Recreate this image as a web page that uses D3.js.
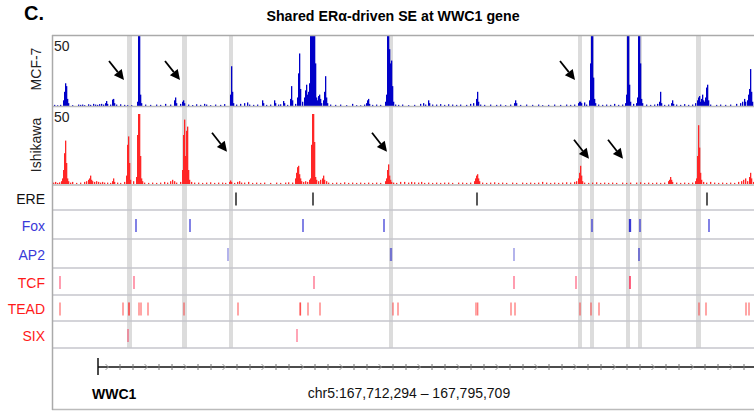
<!DOCTYPE html>
<html>
<head>
<meta charset="utf-8">
<script src="https://cdn.jsdelivr.net/npm/d3@7"></script>
<style>
  body { margin: 0; background: #fff; }
  svg { display: block; font-family: "Liberation Sans", Arial, sans-serif; }
</style>
</head>
<body>
<div class="browser-fig"></div>
<script>
// window shown: chr5:167,712,294 – 167,795,709 (positions below in kb from window start)
const regionStart = 167712294;
const regionEnd = 167795709;
const trackMax = 50;

// ChIP coverage, 100 bp bins: [bin, signal]
const mcf7Signal = [
  [2, 0.8], [5, 0.5], [8, 0.8], [11, 4], [12, 10], [13, 16], [14, 14], [15, 5], [16, 2], [20, 0.6],
  [26, 1], [28, 0.8], [30, 1], [32, 0.6], [36, 1.2], [38, 0.8], [41, 1.5], [43, 1], [45, 0.8], [47, 1.3],
  [49, 1.5], [51, 1], [53, 2], [54, 3.5], [55, 1.5], [58, 1], [60, 4.5], [61, 5], [62, 2], [64, 1],
  [68, 1.2], [72, 0.8], [75, 0.6], [79, 0.6], [85, 3], [86, 60], [87, 60], [88, 8], [89, 2], [93, 1],
  [98, 0.8], [104, 1], [108, 0.8], [113, 1.5], [118, 1], [122, 4], [123, 6], [124, 2], [128, 1.5], [130, 3],
  [131, 4], [132, 2], [136, 1], [140, 0.7], [144, 1.2], [148, 0.8], [152, 1.5], [154, 1], [158, 0.6], [163, 1],
  [168, 0.8], [172, 1.3], [178, 8], [179, 28], [180, 10], [181, 2], [184, 1], [188, 1.5], [192, 2], [195, 2.5],
  [197, 1], [201, 0.8], [205, 1], [210, 4], [211, 2], [214, 0.8], [218, 1], [222, 4], [223, 2], [226, 1],
  [228, 1.2], [231, 3.5], [232, 2], [235, 0.8], [238, 5], [239, 14], [240, 4], [243, 1.5], [245, 6], [246, 23],
  [247, 37], [248, 12], [250, 3], [252, 6], [253, 11], [254, 15], [255, 8], [256, 10], [257, 16], [258, 60],
  [259, 60], [260, 60], [261, 60], [262, 60], [263, 30], [264, 6], [265, 4], [266, 7], [267, 8], [268, 5],
  [269, 2], [271, 4], [272, 10], [273, 21], [274, 6], [275, 2], [278, 1], [283, 0.8], [288, 1], [294, 0.6],
  [300, 1.5], [304, 0.6], [308, 0.5], [312, 1], [314, 2], [315, 4], [316, 5], [317, 1.5], [320, 0.8], [324, 1],
  [328, 0.8], [333, 3], [334, 8], [335, 60], [336, 60], [337, 40], [338, 30], [339, 32], [340, 14], [341, 3],
  [343, 1], [346, 0.8], [350, 1], [356, 0.6], [362, 0.8], [368, 1.5], [371, 2], [373, 1], [376, 4], [377, 2],
  [380, 1], [384, 1], [388, 1.3], [392, 0.8], [396, 1.2], [400, 1], [404, 0.8], [408, 1], [414, 0.8], [418, 1.5],
  [421, 2], [424, 5], [425, 10], [426, 3], [428, 1], [432, 0.8], [438, 1], [444, 0.8], [448, 1], [453, 0.6],
  [458, 1], [462, 2], [463, 4], [464, 2], [468, 0.8], [474, 1], [480, 0.8], [486, 1], [490, 0.6], [496, 0.8],
  [502, 1], [508, 0.8], [514, 1], [518, 0.8], [522, 1], [526, 2], [527, 3], [528, 3], [529, 2], [532, 2.5],
  [534, 1], [537, 4], [538, 30], [539, 60], [540, 60], [541, 20], [542, 5], [543, 2], [546, 1], [550, 0.8],
  [554, 1], [558, 0.8], [562, 1.5], [566, 0.8], [570, 1], [573, 2], [574, 8], [575, 60], [576, 60], [577, 15],
  [578, 3], [581, 1.5], [584, 2], [585, 6], [586, 60], [587, 60], [588, 30], [589, 5], [590, 2], [594, 1],
  [598, 0.8], [602, 1], [605, 1.5], [607, 3], [608, 10], [609, 2], [612, 0.8], [616, 1], [619, 2], [620, 4],
  [621, 1.5], [624, 1], [628, 0.8], [632, 1.3], [636, 0.8], [640, 1], [643, 2], [645, 4], [646, 6], [647, 7],
  [648, 3], [649, 5], [650, 8], [651, 4], [652, 3], [653, 6], [654, 13], [655, 15], [656, 4], [658, 1],
  [664, 0.8], [668, 1], [673, 0.8], [678, 1], [684, 1.5], [688, 2], [690, 3], [692, 5], [693, 3], [695, 4],
  [696, 8], [697, 12], [698, 26], [699, 10], [700, 3], [702, 1]
];

const ishikawaSignal = [
  [1, 1], [3, 1.5], [5, 0.8], [7, 1.2], [9, 2], [10, 4], [11, 10], [12, 22], [13, 31], [14, 15],
  [15, 4], [16, 2], [18, 1], [20, 1.5], [24, 0.8], [28, 1], [32, 1.5], [34, 2], [36, 3], [37, 4],
  [38, 6], [39, 3], [40, 2], [42, 1.5], [44, 2], [46, 1.5], [48, 1], [50, 1.5], [52, 1], [55, 1],
  [58, 0.8], [60, 2], [61, 4], [62, 1.5], [65, 1], [68, 0.8], [72, 1.5], [74, 6], [75, 28], [76, 34],
  [77, 15], [78, 3], [81, 2], [84, 5], [85, 35], [86, 50], [87, 50], [88, 20], [89, 4], [90, 2],
  [92, 1], [96, 0.8], [100, 1], [104, 0.8], [108, 1], [112, 1.5], [115, 1], [118, 2], [120, 3], [122, 2],
  [124, 1], [128, 1.5], [130, 10], [131, 35], [132, 46], [133, 20], [134, 38], [135, 41], [136, 10], [137, 3],
  [139, 1.5], [142, 1], [146, 1], [150, 0.8], [154, 1], [158, 1.2], [162, 0.8], [166, 1], [170, 1], [173, 0.8],
  [177, 1.5], [178, 2.5], [179, 1.5], [182, 0.8], [185, 1.5], [187, 2], [189, 1], [192, 1], [196, 1.5], [200, 0.8],
  [204, 1], [208, 0.8], [212, 1], [218, 0.8], [224, 1], [228, 0.8], [233, 1], [236, 1.2], [240, 1], [243, 4],
  [244, 8], [245, 12], [246, 13], [247, 7], [248, 4], [249, 2], [251, 1.5], [253, 2], [255, 1.5], [257, 3],
  [258, 4], [259, 28], [260, 50], [261, 50], [262, 30], [263, 5], [264, 3], [266, 2], [268, 3], [270, 4],
  [271, 6], [272, 3], [274, 2], [276, 1], [280, 0.8], [284, 1], [288, 0.8], [292, 1.2], [296, 0.8], [300, 1],
  [304, 0.8], [308, 1], [312, 0.8], [316, 1], [320, 0.8], [324, 1], [328, 0.8], [333, 2], [334, 4], [335, 10],
  [336, 14], [337, 6], [338, 3], [339, 1.5], [341, 1], [344, 0.8], [348, 1.5], [352, 1.5], [356, 1], [359, 1.5],
  [362, 1.2], [366, 1], [369, 1.5], [372, 0.8], [376, 1], [380, 0.8], [384, 1], [388, 0.8], [392, 1], [396, 1],
  [400, 0.8], [406, 1], [410, 1], [414, 0.8], [418, 1], [422, 2], [423, 4], [424, 6], [425, 7], [426, 4],
  [427, 2], [430, 1], [434, 0.8], [438, 1], [442, 1.2], [446, 0.8], [450, 1], [454, 0.8], [460, 1], [464, 0.8],
  [470, 1], [474, 0.8], [478, 1], [482, 0.8], [486, 1], [490, 1.5], [494, 1], [498, 0.8], [502, 1], [506, 0.8],
  [510, 1], [514, 1.2], [518, 1], [522, 1.5], [524, 2], [526, 4], [527, 8], [528, 13], [529, 6], [530, 2],
  [532, 1], [536, 0.8], [540, 1], [544, 1.2], [548, 0.8], [552, 1], [556, 0.8], [560, 1], [564, 0.8], [570, 1],
  [574, 0.8], [578, 1], [584, 1], [588, 1.2], [592, 0.8], [596, 1], [600, 0.8], [604, 1], [608, 0.8], [612, 1],
  [616, 2], [617, 3], [618, 5], [619, 3], [620, 1.5], [624, 1], [628, 0.8], [632, 1], [636, 0.8], [640, 1],
  [643, 2], [644, 4], [645, 20], [646, 42], [647, 26], [648, 8], [649, 3], [651, 1.5], [654, 1], [658, 1.5],
  [662, 1], [666, 0.8], [670, 1], [674, 0.8], [678, 1], [682, 0.8], [686, 1.5], [689, 2], [691, 3], [693, 4],
  [695, 2], [697, 5], [698, 8], [699, 4], [701, 1.5]
];

// shared ERa-bound regions (kb start, kb end)
const highlightRegions = [
  [7.5, 8.0], [13.0, 13.5], [17.7, 18.1], [33.7, 34.1], [52.6, 53.0],
  [53.8, 54.2], [57.4, 57.8], [58.6, 59.0], [64.4, 64.9]
];

// arrows: [kb at tip, signal at tip]
const mcf7Arrows = [[7.2, 18.3], [12.8, 18.3], [52.3, 18.3]];
const ishikawaArrows = [[17.5, 23], [33.5, 23], [53.7, 18], [57.1, 18]];

// motif sites (kb)
const motifNames = ['ERE', 'Fox', 'AP2', 'TCF', 'TEAD', 'SIX'];
const ereSites = [18.4, 26.1, 42.5, 65.5];
const foxSites = [8.4, 13.8, 25.1, 33.2, 54.0, 57.75, 57.85, 58.8, 65.7];
const ap2Sites = [17.6, 33.85, 33.95, 46.2, 58.7, 58.7];
const tcfSites = [0.8, 8.2, 26.2, 46.2, 52.4, 57.8, 57.8];
const teadSites = [0.8, 7.1, 7.7, 7.7, 8.7, 8.9, 9.6, 13.2, 18.6, 24.8, 24.85, 25.6, 26.8, 34.1, 34.6,
  42.4, 42.57, 45.9, 46.3, 52.8, 53.9, 54.7, 64.7, 65.4, 69.4, 69.7];
const sixSites = [7.6, 24.5];

const geneName = 'WWC1';
const geneStartKb = 4.6;

const width = 754;
const height = 411;
const left = 52;

const svg = d3.select('.browser-fig')
  .append('svg')
  .attr('width', width)
  .attr('height', height);

const spanKb = (regionEnd - regionStart) / 1000;
const xScale = d3.scaleLinear()
  .domain([0, spanKb])
  .range([left, left + spanKb * 10]);

const binW = xScale(0.1) - xScale(0);

// track rows
const mcf7Y = d3.scaleLinear().domain([0, trackMax]).range([106, 35]).clamp(true);
const ishY = d3.scaleLinear().domain([0, trackMax]).range([184, 114]).clamp(true);
const motifRows = [186, 210, 239, 268, 295, 321, 348];
const motifColors = ['#000', '#1c1cd0', '#2b2bc8', '#ff1744', '#ff1a1a', '#ff1744'];
const motifOpacity = [1, 0.85, 0.55, 0.65, 0.6, 0.6];
const labelColors = ['#111', '#3a3ad8', '#3a3ad8', '#ff1a1a', '#ff1a1a', '#ff1a1a'];
const motifSites = [ereSites, foxSites, ap2Sites, tcfSites, teadSites, sixSites];

// titles
svg.append('text')
  .attr('x', 24).attr('y', 20)
  .attr('font-size', 20).attr('font-weight', 'bold')
  .text('C.');

svg.append('text')
  .attr('x', 393).attr('y', 21)
  .attr('text-anchor', 'middle')
  .attr('font-size', 14.2).attr('font-weight', 'bold')
  .text('Shared ERα-driven SE at WWC1 gene');

// highlight bands
svg.append('g')
  .selectAll('rect')
  .data(highlightRegions)
  .enter()
  .append('rect')
  .attr('x', d => xScale(d[0]))
  .attr('y', 35)
  .attr('width', d => xScale(d[1]) - xScale(d[0]))
  .attr('height', 348 - 35)
  .attr('fill', '#dcdcdc');

// signal tracks
function drawSignal(data, y, color) {
  svg.append('g')
    .selectAll('rect')
    .data(data)
    .enter()
    .append('rect')
    .attr('x', d => xScale(d[0] * 0.1))
    .attr('y', d => y(d[1]))
    .attr('width', binW + 0.3)
    .attr('height', d => y(0) - y(d[1]))
    .attr('fill', color);
}
drawSignal(mcf7Signal, mcf7Y, '#0000c8');
drawSignal(ishikawaSignal, ishY, '#ff2626');

// frame lines
const grid = svg.append('g').attr('stroke', '#c6c6cc').attr('stroke-width', 1.5);
grid.append('line').attr('x1', left).attr('x2', width).attr('y1', 35.5).attr('y2', 35.5).attr('stroke', '#aaa');
grid.append('line').attr('x1', left).attr('x2', width).attr('y1', mcf7Y(0) + 0.5).attr('y2', mcf7Y(0) + 0.5).attr('stroke', '#bbb');
grid.append('line').attr('x1', left).attr('x2', width).attr('y1', ishY(0) + 1).attr('y2', ishY(0) + 1).attr('stroke', '#bbb');
grid.selectAll('.row')
  .data(motifRows.slice(1))
  .enter()
  .append('line')
  .attr('x1', left).attr('x2', width)
  .attr('y1', d => d).attr('y2', d => d);
grid.append('line').attr('x1', left).attr('x2', width).attr('y1', 409.5).attr('y2', 409.5).attr('stroke', '#bbb');
grid.append('line').attr('x1', left + 0.5).attr('x2', left + 0.5).attr('y1', 35).attr('y2', 410).attr('stroke', '#aaa');

// track labels
[['MCF-7', 69, 51], ['Ishikawa', 145, 122]].forEach(([name, cy, ly]) => {
  svg.append('text')
    .attr('transform', `translate(41, ${cy}) rotate(-90)`)
    .attr('text-anchor', 'middle')
    .attr('font-size', 14)
    .attr('fill', '#222')
    .text(name);
  svg.append('text')
    .attr('x', 54).attr('y', ly)
    .attr('font-size', 14)
    .attr('fill', '#222')
    .text(trackMax);
});

// arrows
function drawArrows(data, y) {
  data.forEach(d => {
    const tx = xScale(d[0]);
    const ty = y(d[1]);
    const ang = Math.atan2(19, 15);
    const hl = 10, hw = 5;
    const bx = tx - hl * Math.cos(ang), by = ty - hl * Math.sin(ang);
    svg.append('line')
      .attr('x1', tx - 15).attr('y1', ty - 19)
      .attr('x2', bx).attr('y2', by)
      .attr('stroke', '#000').attr('stroke-width', 1.8);
    svg.append('path')
      .attr('d', `M${tx},${ty}L${bx + hw * Math.sin(ang)},${by - hw * Math.cos(ang)}L${bx - hw * Math.sin(ang)},${by + hw * Math.cos(ang)}Z`)
      .attr('fill', '#000');
  });
}
drawArrows(mcf7Arrows, mcf7Y);
drawArrows(ishikawaArrows, ishY);

// motif rows
motifNames.forEach((name, i) => {
  const top = motifRows[i], bot = motifRows[i + 1];
  const mid = (top + bot) / 2 + 1;
  svg.append('text')
    .attr('x', 45).attr('y', mid + 5)
    .attr('text-anchor', 'end')
    .attr('font-size', 14)
    .attr('fill', labelColors[i])
    .text(name);
  svg.append('g')
    .selectAll('line')
    .data(motifSites[i])
    .enter()
    .append('line')
    .attr('x1', d => xScale(d)).attr('x2', d => xScale(d))
    .attr('y1', mid - 6.5).attr('y2', mid + 6.5)
    .attr('stroke', motifColors[i])
    .attr('stroke-opacity', motifOpacity[i])
    .attr('stroke-width', 1.3);
});

// gene model
const geneY = 367;
const gene = svg.append('g');
gene.append('line')
  .attr('x1', xScale(geneStartKb)).attr('x2', width)
  .attr('y1', geneY).attr('y2', geneY)
  .attr('stroke', '#111').attr('stroke-width', 1.3);
gene.append('line')
  .attr('x1', xScale(geneStartKb)).attr('x2', xScale(geneStartKb))
  .attr('y1', geneY - 9).attr('y2', geneY + 8)
  .attr('stroke', '#111').attr('stroke-width', 1.5);
d3.range(geneStartKb + 0.9, spanKb, 1.3).forEach((k, i) => {
  const gx = xScale(k);
  if (i % 3 === 0) {
    gene.append('path')
      .attr('d', `M${gx - 1.5},${geneY - 3}L${gx + 1.5},${geneY}L${gx - 1.5},${geneY + 3}`)
      .attr('fill', 'none').attr('stroke', '#999').attr('stroke-width', 1);
  } else {
    gene.append('line')
      .attr('x1', gx).attr('x2', gx)
      .attr('y1', geneY - 3).attr('y2', geneY + 3)
      .attr('stroke', '#777').attr('stroke-width', 1);
  }
});

svg.append('text')
  .attr('x', 92).attr('y', 399)
  .attr('font-size', 14).attr('font-weight', 'bold')
  .text(geneName);

svg.append('text')
  .attr('x', 409).attr('y', 398)
  .attr('text-anchor', 'middle')
  .attr('font-size', 14)
  .attr('fill', '#111')
  .text(`chr5:${d3.format(',')(regionStart)} – ${d3.format(',')(regionEnd)}`);
</script>
</body>
</html>
